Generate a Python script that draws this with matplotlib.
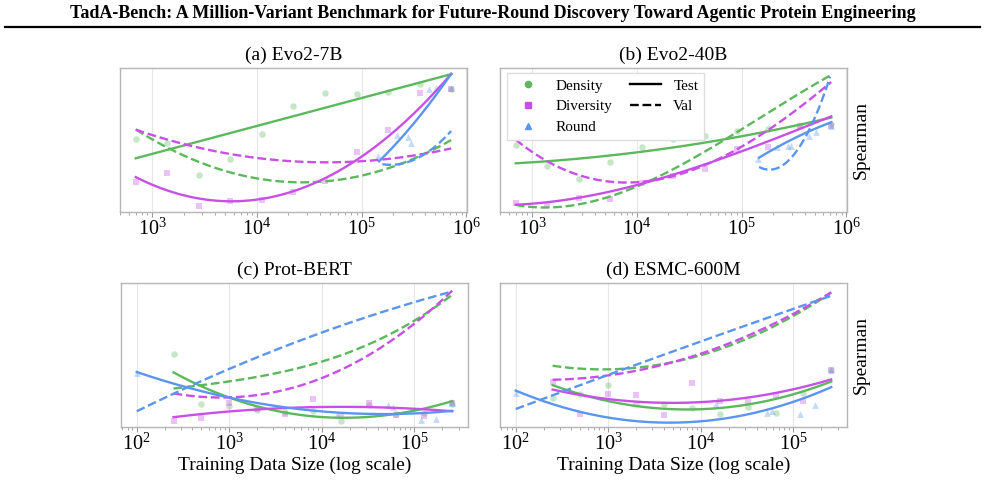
import numpy as np
import matplotlib
matplotlib.use('Agg')
import matplotlib.pyplot as plt
from matplotlib.lines import Line2D

plt.rcParams['font.family'] = ['Liberation Serif', 'DejaVu Serif']
plt.rcParams['mathtext.fontset'] = 'stix'

GREEN = '#5cb85c'
PURPLE = '#c850e6'
BLUE = '#5a96f0'

# training sizes (subsampled splits) for the two dataset groups
x_top = [700, 1400, 2800, 5600, 11200, 22400, 44800, 89600, 179200, 358400, 716800]
x_bot = [250, 500, 1000, 2000, 4000, 8000, 16000, 32000, 64000, 128000, 256000]
rx_top = [144000, 218000, 278000, 299000, 439000, 515000, 716800]
rx_bot = [100, 14650, 51400, 58200, 118000, 170000, 256000]

# scatter values (test Spearman, arbitrary scale as no y ticks are shown)
a_den = [0.51, 0.48, 0.26, 0.37, 0.546, 0.738, 0.827, 0.822, 0.838, 0.89, 0.86]
a_div = [0.206, 0.27, 0.04, 0.08, 0.087, 0.14, 0.215, 0.42, 0.57, 0.83, 0.86]
a_rnd = [0.39, 0.536, 0.52, 0.478, 0.86, 0.864, 0.864]
b_den = [0.468, 0.32, 0.227, 0.35, 0.45, 0.508, 0.527, 0.562, 0.578, 0.60, 0.61]
b_div = [0.06, 0.05, 0.1, 0.09, 0.2, 0.25, 0.3, 0.44, 0.45, 0.6, 0.60]
b_rnd = [0.368, 0.45, 0.46, 0.46, 0.53, 0.56, 0.60]
c_den = [0.507, 0.163, 0.144, 0.116, 0.105, 0.112, 0.042, 0.151, 0.093, 0.10, 0.163]
c_div = [0.042, 0.065, 0.167, 0.128, 0.088, 0.198, 0.074, 0.167, 0.081, 0.074, 0.167]
c_rnd = [0.377, 0.081, 0.151, 0.14, 0.047, 0.058, 0.167]
d_den = [0.202, 0.23, 0.29, 0.16, 0.163, 0.13, 0.093, 0.14, 0.10, 0.24, 0.40]
d_div = [0.314, 0.088, 0.233, 0.221, 0.081, 0.307, 0.18, 0.174, 0.22, 0.181, 0.40]
d_rnd = [0.237, 0.158, 0.098, 0.112, 0.093, 0.151, 0.40]

# fitted trend curves: (x, y)
a_den_test = ([700, 2800, 11200, 89600, 716800], [0.375, 0.49, 0.61, 0.785, 0.96])
a_den_val = ([700, 2800, 5600, 22400, 89600, 358400, 716800], [0.574, 0.356, 0.27, 0.204, 0.25, 0.39, 0.50])
a_div_test = ([700, 5600, 22400, 89600, 716800], [0.241, 0.087, 0.124, 0.375, 0.96])
a_div_val = ([700, 2800, 5600, 22400, 89600, 358400, 716800], [0.567, 0.466, 0.396, 0.349, 0.349, 0.403, 0.443])
a_rnd_test = ([147000, 186000, 267000, 385000, 515000, 716800], [0.36, 0.42, 0.555, 0.696, 0.824, 0.958])
a_rnd_val = ([158000, 186000, 267000, 385000, 555000, 716800], [0.34, 0.32, 0.344, 0.396, 0.49, 0.56])

b_den_test = ([700, 2800, 11200, 22400, 89600, 358400, 716800], [0.344, 0.368, 0.41, 0.45, 0.536, 0.607, 0.653])
b_den_val = ([700, 2800, 11200, 22400, 44800, 89600, 179200, 358400, 716800], [0.04, 0.075, 0.208, 0.27, 0.40, 0.55, 0.719, 0.848, 0.934])
b_div_test = ([700, 2800, 11200, 22400, 44800, 89600, 179200, 358400, 716800], [0.052, 0.091, 0.215, 0.26, 0.32, 0.403, 0.496, 0.59, 0.66])
b_div_val = ([700, 1400, 2800, 5600, 11200, 22400, 44800, 89600, 179200, 358400, 716800], [0.49, 0.363, 0.27, 0.222, 0.204, 0.246, 0.30, 0.41, 0.61, 0.76, 0.878])
b_rnd_test = ([147000, 267000, 385000, 716800], [0.379, 0.485, 0.543, 0.625])
b_rnd_val = ([147000, 186000, 288000, 410000, 550000, 700000], [0.316, 0.293, 0.363, 0.527, 0.738, 0.937])

c_den_test = ([250, 500, 1000, 2000, 4000, 8000, 16000, 32000, 64000, 128000, 256000], [0.379, 0.284, 0.209, 0.14, 0.10, 0.075, 0.063, 0.07, 0.093, 0.13, 0.179])
c_den_val = ([250, 500, 1000, 2000, 4000, 8000, 32000, 128000, 256000], [0.272, 0.286, 0.314, 0.345, 0.40, 0.44, 0.565, 0.79, 0.919])
c_div_test = ([250, 1000, 4000, 32000, 256000], [0.07, 0.105, 0.133, 0.14, 0.109])
c_div_val = ([250, 1000, 2000, 4000, 8000, 16000, 32000, 64000, 128000, 256000], [0.233, 0.205, 0.225, 0.265, 0.314, 0.395, 0.49, 0.63, 0.79, 0.942])
c_rnd_test = ([100, 340, 1000, 2700, 5000, 24600, 256000], [0.379, 0.284, 0.209, 0.151, 0.12, 0.098, 0.112])
c_rnd_val = ([100, 340, 1000, 5700, 24600, 256000], [0.098, 0.29, 0.407, 0.59, 0.744, 0.947])

d_den_test = ([250, 1000, 4000, 16000, 64000, 256000], [0.279, 0.198, 0.133, 0.128, 0.174, 0.33])
d_den_val = ([250, 1000, 4000, 16000, 64000, 256000], [0.419, 0.407, 0.453, 0.547, 0.674, 0.953])
d_div_test = ([250, 1000, 4000, 16000, 64000, 256000], [0.256, 0.20, 0.174, 0.179, 0.228, 0.337])
d_div_val = ([250, 1000, 4000, 16000, 64000, 256000], [0.319, 0.372, 0.442, 0.56, 0.698, 0.953])
d_rnd_test = ([100, 1000, 4000, 16300, 64000, 256000], [0.249, 0.07, 0.042, 0.051, 0.116, 0.29])
d_rnd_val = ([100, 1000, 4000, 16300, 64000, 100000, 256000], [0.121, 0.377, 0.5, 0.633, 0.779, 0.833, 0.912])

panels = [
    ('(a) Evo2-7B', x_top, rx_top, a_den, a_div, a_rnd,
     [a_den_test, a_den_val, a_div_test, a_div_val, a_rnd_test, a_rnd_val]),
    ('(b) Evo2-40B', x_top, rx_top, b_den, b_div, b_rnd,
     [b_den_test, b_den_val, b_div_test, b_div_val, b_rnd_test, b_rnd_val]),
    ('(c) Prot-BERT', x_bot, rx_bot, c_den, c_div, c_rnd,
     [c_den_test, c_den_val, c_div_test, c_div_val, c_rnd_test, c_rnd_val]),
    ('(d) ESMC-600M', x_bot, rx_bot, d_den, d_div, d_rnd,
     [d_den_test, d_den_val, d_div_test, d_div_val, d_rnd_test, d_rnd_val]),
]


def fit_curve(xs, ys, deg=2):
    lx = np.log10(xs)
    p = np.polyfit(lx, ys, min(deg, len(xs) - 1))
    xx = np.linspace(lx[0], lx[-1], 200)
    return 10 ** xx, np.polyval(p, xx)


fig = plt.figure(figsize=(9.85, 4.95), dpi=100)
fig.text(0.5, 0.972, 'TadA-Bench: A Million-Variant Benchmark for Future-Round Discovery Toward Agentic Protein Engineering',
         ha='center', va='center', fontsize=13, fontweight='bold')
fig.add_artist(Line2D([0.005, 0.995], [0.9455, 0.9455], transform=fig.transFigure, color='black', lw=1.6))

boxes = [(0.1218, 0.5717), (0.5076, 0.5717), (0.1228, 0.1374), (0.5076, 0.1374)]
colors = [GREEN, GREEN, PURPLE, PURPLE, BLUE, BLUE]

for i, (title, xs, rxs, den, div, rnd, curves) in enumerate(panels):
    ax = fig.add_axes([boxes[i][0], boxes[i][1], 0.3523, 0.29])
    ax.set_xscale('log')
    ax.scatter(xs, den, marker='o', s=22, color=GREEN, alpha=0.35, lw=0)
    ax.scatter(xs, div, marker='s', s=22, color=PURPLE, alpha=0.35, lw=0)
    ax.scatter(rxs, rnd, marker='^', s=24, color=BLUE, alpha=0.35, lw=0)
    for j, (cx, cy) in enumerate(curves):
        deg = 3 if len(cx) >= 8 else 2
        fx, fy = fit_curve(cx, cy, deg)
        ax.plot(fx, fy, color=colors[j], lw=1.7, ls='-' if j % 2 == 0 else '--')
    ax.set_ylim(0, 1)
    ax.set_yticks([])
    ax.set_title(title, fontsize=14, pad=6)
    ax.grid(True, axis='x', which='major', color='#e6e6e6', lw=0.8)
    ax.set_axisbelow(True)
    for sp in ax.spines.values():
        sp.set_color('#b5b5b5')
        sp.set_linewidth(1.0)
    ax.tick_params(axis='x', which='major', labelsize=14.5, length=3.5, color='#999999', pad=1.5)
    ax.tick_params(axis='x', which='minor', length=2, color='#999999')
    if i % 2 == 1:
        ax.yaxis.set_label_position('right')
        ax.set_ylabel('Spearman', fontsize=14, labelpad=4)
    if i >= 2:
        ax.set_xlabel('Training Data Size (log scale)', fontsize=14, labelpad=1)
    if i == 1:
        handles = [
            Line2D([], [], marker='o', color=GREEN, ls='', markersize=4.5),
            Line2D([], [], marker='s', color=PURPLE, ls='', markersize=4.5),
            Line2D([], [], marker='^', color=BLUE, ls='', markersize=4.5),
            Line2D([], [], color='black', lw=1.7, ls='-'),
            Line2D([], [], color='black', lw=1.7, ls='--'),
        ]
        ax.legend(handles, ['Density', 'Diversity', 'Round', 'Test', 'Val'], ncol=2,
                  loc='upper left', fontsize=11, handlelength=2.0, columnspacing=1.2,
                  labelspacing=0.45, framealpha=1, edgecolor='#dddddd', fancybox=False,
                  bbox_to_anchor=(0.01, 0.99), borderaxespad=0.2)

fig.savefig('out.png', dpi=100)
